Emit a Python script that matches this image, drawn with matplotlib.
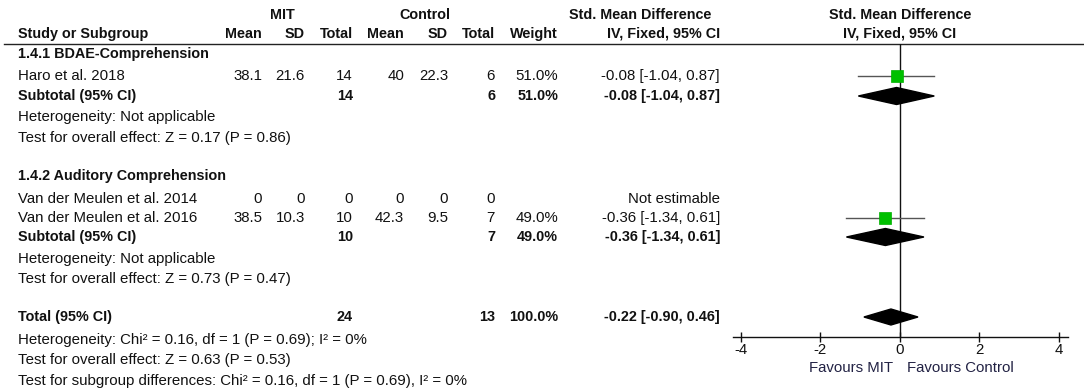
import matplotlib
matplotlib.use("Agg")
import matplotlib.pyplot as plt
from matplotlib.patches import Polygon

plt.rcParams['font.family'] = ['Liberation Sans', 'DejaVu Sans']
plt.rcParams['axes.unicode_minus'] = False

# ---------------- data ----------------
group_names = ["1.4.1 BDAE-Comprehension", "1.4.2 Auditory Comprehension"]
study_names = ["Haro et al. 2018", "Van der Meulen et al. 2014", "Van der Meulen et al. 2016"]
mit_mean = [38.1, 0, 38.5]
mit_sd = [21.6, 0, 10.3]
mit_n = [14, 0, 10]
ctl_mean = [40, 0, 42.3]
ctl_sd = [22.3, 0, 9.5]
ctl_n = [6, 0, 7]
weight = [51.0, None, 49.0]
smd = [-0.08, None, -0.36]
smd_lo = [-1.04, None, -1.34]
smd_hi = [0.87, None, 0.61]

sub_mit_n = [14, 10]
sub_ctl_n = [6, 7]
sub_weight = [51.0, 49.0]
sub_smd = [-0.08, -0.36]
sub_lo = [-1.04, -1.34]
sub_hi = [0.87, 0.61]
sub_het = ["Heterogeneity: Not applicable", "Heterogeneity: Not applicable"]
sub_test = ["Test for overall effect: Z = 0.17 (P = 0.86)",
            "Test for overall effect: Z = 0.73 (P = 0.47)"]

tot_mit_n = 24
tot_ctl_n = 13
tot_weight = 100.0
tot_smd = -0.22
tot_lo = -0.90
tot_hi = 0.46
tot_notes = ["Heterogeneity: Chi\u00b2 = 0.16, df = 1 (P = 0.69); I\u00b2 = 0%",
             "Test for overall effect: Z = 0.63 (P = 0.53)",
             "Test for subgroup differences: Chi\u00b2 = 0.16, df = 1 (P = 0.69), I\u00b2 = 0%"]

x_ticks = [-4, -2, 0, 2, 4]
favours_left = "Favours MIT"
favours_right = "Favours Control"

# ---------------- layout ----------------
W, H = 1084, 390
fig = plt.figure(figsize=(W / 100, H / 100), dpi=100)
bg = fig.add_axes([0, 0, 1, 1])
bg.set_xlim(0, W)
bg.set_ylim(H, 0)
bg.axis('off')

FS = 10.8
FSB = 10.4
TC = '#111111'
X_NAME = 18
X_MMEAN, X_MSD, X_MN = 262, 305, 353
X_CMEAN, X_CSD, X_CN = 404, 448, 495
X_W, X_CI = 558, 720


def t(x, y, s, ha='left', bold=False, color=TC):
    bg.text(x, y, s, ha=ha, va='center', fontsize=FSB if bold else FS, color=color,
            fontweight='bold' if bold else 'normal')


# headers
t(282, 15, "MIT", ha='center', bold=True)
t(425, 15, "Control", ha='center', bold=True)
t(640, 15, "Std. Mean Difference", ha='center', bold=True)
t(900, 15, "Std. Mean Difference", ha='center', bold=True)
t(X_NAME, 34, "Study or Subgroup", bold=True)
for x, s in [(X_MMEAN, "Mean"), (X_MSD, "SD"), (X_MN, "Total"),
             (X_CMEAN, "Mean"), (X_CSD, "SD"), (X_CN, "Total"),
             (X_W, "Weight"), (X_CI, "IV, Fixed, 95% CI")]:
    t(x, 34, s, ha='right', bold=True)
t(900, 34, "IV, Fixed, 95% CI", ha='center', bold=True)
bg.plot([4, W], [43.5, 43.5], color='#222222', lw=1.0)

group_y = [54, 176]
study_y = [76, 199, 218]
sub_y = [96, 237]
het_y = [117, 259]
test_y = [138, 279]
total_y = 317
notes_y = [340, 360, 381]

# forest axes
ax_l, ax_r, ax_top, ax_bot = 733, 1068, 43.5, 337
ax = fig.add_axes([ax_l / W, (H - ax_bot) / H, (ax_r - ax_l) / W, (ax_bot - ax_top) / H])
ax.patch.set_alpha(0)
px_per_unit = (1058.7 - 740.7) / 8
ax.set_xlim(-4 - (740.7 - ax_l) / px_per_unit, 4 + (ax_r - 1058.7) / px_per_unit)
ax.set_ylim(ax_bot, ax_top)
for sp in ['top', 'left', 'right']:
    ax.spines[sp].set_visible(False)
ax.spines['bottom'].set_color('#111111')
ax.spines['bottom'].set_linewidth(1.0)
ax.set_yticks([])
ax.set_xticks(x_ticks)
ax.set_xticklabels([str(v) for v in x_ticks])
ax.tick_params(axis='x', direction='inout', length=7, width=1.0, pad=1.0,
               labelsize=FS, colors='#111111')
ax.axvline(0, color='#111111', lw=1.0, zorder=1)

for gi, gname in enumerate(group_names):
    t(X_NAME, group_y[gi], gname, bold=True)
for i, name in enumerate(study_names):
    y = study_y[i]
    t(X_NAME, y, name)
    t(X_MMEAN, y, f"{mit_mean[i]:g}", ha='right')
    t(X_MSD, y, f"{mit_sd[i]:g}", ha='right')
    t(X_MN, y, f"{mit_n[i]:g}", ha='right')
    t(X_CMEAN, y, f"{ctl_mean[i]:g}", ha='right')
    t(X_CSD, y, f"{ctl_sd[i]:g}", ha='right')
    t(X_CN, y, f"{ctl_n[i]:g}", ha='right')
    if smd[i] is None:
        t(X_CI, y, "Not estimable", ha='right')
    else:
        t(X_W, y, f"{weight[i]:.1f}%", ha='right')
        t(X_CI, y, f"{smd[i]:.2f} [{smd_lo[i]:.2f}, {smd_hi[i]:.2f}]", ha='right')
        ax.plot([smd_lo[i], smd_hi[i]], [y, y], color='#555555', lw=1.0, zorder=2)
        side = 12.5 * (weight[i] / 51.0) ** 0.5
        ax.plot([smd[i]], [y], marker='s', ms=side * 0.72, color='#00c000',
                mec='#00b000', mew=0.5, zorder=3)

for gi in range(len(group_names)):
    y = sub_y[gi]
    t(X_NAME, y, "Subtotal (95% CI)", bold=True)
    t(X_MN, y, f"{sub_mit_n[gi]}", ha='right', bold=True)
    t(X_CN, y, f"{sub_ctl_n[gi]}", ha='right', bold=True)
    t(X_W, y, f"{sub_weight[gi]:.1f}%", ha='right', bold=True)
    t(X_CI, y, f"{sub_smd[gi]:.2f} [{sub_lo[gi]:.2f}, {sub_hi[gi]:.2f}]", ha='right', bold=True)
    h = 8.5
    ax.add_patch(Polygon([(sub_lo[gi], y), (sub_smd[gi], y - h), (sub_hi[gi], y),
                          (sub_smd[gi], y + h)], closed=True, color='black', zorder=3))
    t(X_NAME, het_y[gi], sub_het[gi])
    t(X_NAME, test_y[gi], sub_test[gi])

y = total_y
t(X_NAME, y, "Total (95% CI)", bold=True)
t(X_MN, y, f"{tot_mit_n}", ha='right', bold=True)
t(X_CN, y, f"{tot_ctl_n}", ha='right', bold=True)
t(X_W, y, f"{tot_weight:.1f}%", ha='right', bold=True)
t(X_CI, y, f"{tot_smd:.2f} [{tot_lo:.2f}, {tot_hi:.2f}]", ha='right', bold=True)
h = 8.0
ax.add_patch(Polygon([(tot_lo, y), (tot_smd, y - h), (tot_hi, y), (tot_smd, y + h)],
                     closed=True, color='black', zorder=3))
for ny, note in zip(notes_y, tot_notes):
    t(X_NAME, ny, note)

t(893, 368, favours_left, ha='right', color='#222244')
t(907, 368, favours_right, ha='left', color='#222244')

fig.savefig("out.png", dpi=100)
